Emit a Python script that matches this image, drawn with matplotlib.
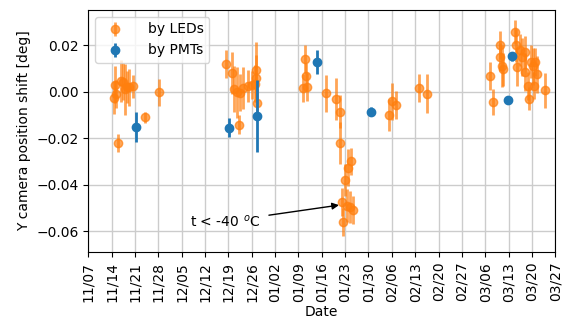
import matplotlib
matplotlib.use("Agg")
import matplotlib.pyplot as plt
import matplotlib.dates as mdates
import pandas as pd

# LED-based measurements
led_dates = [
    "2022-11-14 14:00", "2022-11-14 22:00", "2022-11-15 10:00", "2022-11-16 00:00",
    "2022-11-16 19:00", "2022-11-17 10:00", "2022-11-18 02:00", "2022-11-18 14:00",
    "2022-11-19 07:00", "2022-11-20 07:00", "2022-11-24 02:00", "2022-11-28 02:00",
    "2022-12-18 07:00", "2022-12-20 00:00", "2022-12-20 17:00", "2022-12-21 14:00",
    "2022-12-22 07:00", "2022-12-22 14:00", "2022-12-23 07:00", "2022-12-24 19:00",
    "2022-12-26 00:00", "2022-12-27 00:00", "2022-12-27 05:00", "2022-12-27 10:00",
    "2022-12-27 12:00",
    "2023-01-10 12:00", "2023-01-11 02:00", "2023-01-11 05:00", "2023-01-11 12:00",
    "2023-01-17 05:00", "2023-01-20 05:00", "2023-01-21 10:00", "2023-01-21 11:00",
    "2023-01-22 05:00", "2023-01-22 12:00", "2023-01-23 00:00", "2023-01-23 14:00",
    "2023-01-24 00:00", "2023-01-24 14:00", "2023-01-24 22:00", "2023-01-25 10:00",
    "2023-02-05 05:00", "2023-02-06 00:00", "2023-02-07 07:00", "2023-02-14 05:00",
    "2023-02-16 10:00",
    "2023-03-07 12:00", "2023-03-08 07:00", "2023-03-10 12:00", "2023-03-10 14:00",
    "2023-03-10 22:00", "2023-03-11 05:00", "2023-03-15 00:00", "2023-03-15 05:00",
    "2023-03-15 12:00", "2023-03-16 12:00", "2023-03-17 00:00", "2023-03-17 19:00",
    "2023-03-18 00:00", "2023-03-18 17:00", "2023-03-19 00:00", "2023-03-19 19:00",
    "2023-03-20 07:00", "2023-03-20 14:00", "2023-03-21 00:00", "2023-03-21 12:00",
    "2023-03-23 19:00",
]
led_values = [
    -0.0025, 0.003, -0.001, -0.022,
    0.0048, 0.0044, 0.001, 0.002,
    0.002, 0.0024, -0.011, -0.0003,
    0.012, 0.008, 0.0013, -0.0002,
    -0.0142, -0.0004, 0.0016, 0.0024,
    0.003, 0.0034, 0.0058, 0.0094,
    -0.0048,
    0.0016, 0.014, 0.0066, 0.002,
    -0.0006, -0.003, -0.0086, -0.022,
    -0.0474, -0.0562, -0.038, -0.049,
    -0.0326, -0.0495, -0.030, -0.051,
    -0.010, -0.0041, -0.0055, 0.0017,
    -0.0008,
    0.0068, -0.0045, 0.020, 0.015,
    0.011, 0.0097, 0.0257, 0.020,
    0.0107, 0.018, 0.015, 0.017,
    0.0085, 0.0025, -0.003, 0.013,
    0.011, 0.0027, 0.013, 0.0076,
    0.0006,
]
led_errors = [
    0.007, 0.008, 0.006, 0.004,
    0.009, 0.008, 0.011, 0.007,
    0.008, 0.005, 0.0025, 0.006,
    0.006, 0.009, 0.010, 0.011,
    0.004, 0.008, 0.009, 0.007,
    0.006, 0.008, 0.010, 0.012,
    0.006,
    0.006, 0.006, 0.006, 0.006,
    0.008, 0.009, 0.007, 0.009,
    0.006, 0.006, 0.007, 0.007,
    0.008, 0.007, 0.006, 0.006,
    0.007, 0.008, 0.006, 0.006,
    0.0085,
    0.006, 0.0055, 0.006, 0.006,
    0.009, 0.007, 0.005, 0.007,
    0.008, 0.007, 0.008, 0.007,
    0.008, 0.006, 0.005, 0.007,
    0.008, 0.006, 0.006, 0.008,
    0.0075,
]

# PMT-based measurements
pmt_dates = ["2022-11-21 10:00", "2022-12-19 07:00", "2022-12-27 14:00",
             "2023-01-14 17:00", "2023-01-30 17:00", "2023-03-12 22:00",
             "2023-03-13 22:00"]
pmt_values = [-0.015, -0.0154, -0.0105, 0.0128, -0.0086, -0.0037, 0.0152]
pmt_errors = [0.0065, 0.004, 0.0155, 0.005, 0.002, 0.001, 0.002]

x_start, x_end = "2022-11-07", "2023-03-27"

fig = plt.figure(figsize=(5.62, 3.22), dpi=100)
ax = fig.add_axes([0.157, 0.217, 0.831, 0.752])

ax.errorbar(pd.to_datetime(led_dates), led_values, yerr=led_errors, fmt='o',
            color='#ff7f0e', alpha=0.7, markersize=6, elinewidth=2,
            label='by LEDs', zorder=3)
ax.errorbar(pd.to_datetime(pmt_dates), pmt_values, yerr=pmt_errors, fmt='o',
            color='#1f77b4', markersize=6, elinewidth=2,
            label='by PMTs', zorder=4)

ax.set_xlim(pd.Timestamp(x_start), pd.Timestamp(x_end))
ax.set_ylim(-0.069, 0.0352)
ax.xaxis.set_major_locator(mdates.WeekdayLocator(byweekday=mdates.MO))
ax.xaxis.set_major_formatter(mdates.DateFormatter('%m/%d'))
plt.setp(ax.get_xticklabels(), rotation=90)
ax.set_yticks([-0.06, -0.04, -0.02, 0.0, 0.02])
ax.grid(True, color='#cccccc', linewidth=1)
ax.set_axisbelow(True)

ax.set_xlabel('Date', labelpad=2)
ax.set_ylabel('Y camera position shift [deg]')

ax.annotate(r't < -40 $^o$C', xy=(pd.Timestamp("2023-01-22 00:00"), -0.0486),
            xytext=(pd.Timestamp("2022-12-07 14:00"), -0.0558),
            va='center', ha='left', fontsize=10,
            arrowprops=dict(arrowstyle='-|>', color='black', lw=1,
                            shrinkA=4, shrinkB=2))

ax.legend(loc='upper left', handletextpad=1.4)

fig.savefig('out.png', dpi=100)
